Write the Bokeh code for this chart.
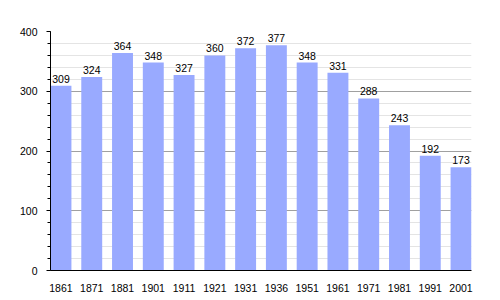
from bokeh.plotting import figure
from bokeh.models import ColumnDataSource, Range1d, SingleIntervalTicker, FixedTicker, LabelSet
from bokeh.core.properties import value
from bokeh.embed import file_html
from bokeh.resources import INLINE

years = ["1861", "1871", "1881", "1901", "1911", "1921", "1931", "1936", "1951", "1961", "1971", "1981", "1991", "2001"]
population = [309, 324, 364, 348, 327, 360, 372, 377, 348, 331, 288, 243, 192, 173]

xs = list(range(len(years)))
src = ColumnDataSource(dict(x=xs, y=population, lbl=[str(v) for v in population]))

bw = 0.68
p = figure(width=500, height=300, output_backend="svg", toolbar_location=None,
           x_range=Range1d(-bw / 2, len(years) - 1 + bw / 2), y_range=Range1d(0, 400),
           min_border_left=50, min_border_right=29, min_border_top=31, min_border_bottom=30)
p.outline_line_color = None
p.background_fill_color = "white"

p.vbar(x="x", top="y", width=bw, bottom=0, source=src, fill_color="#99aaff", line_color=None)

labels = LabelSet(x="x", y="y", text="lbl", source=src, text_align="center", text_baseline="bottom",
                  text_font=value("Liberation Sans"), text_font_size="10.5px", text_color="black",
                  y_offset=3)
p.add_layout(labels)

# y axis
p.yaxis.ticker = SingleIntervalTicker(interval=100, num_minor_ticks=5)
p.yaxis.axis_line_color = "black"
p.yaxis.major_tick_out = 4
p.yaxis.major_tick_in = 0
p.yaxis.minor_tick_out = 3
p.yaxis.minor_tick_in = 0
p.yaxis.major_tick_line_color = "black"
p.yaxis.minor_tick_line_color = "black"
p.yaxis.major_label_standoff = 9
p.yaxis.major_label_text_font = "Liberation Sans"
p.yaxis.major_label_text_font_size = "10.5px"
p.yaxis.major_label_text_color = "black"

# x axis
p.xaxis.ticker = FixedTicker(ticks=xs)
p.xaxis.major_label_overrides = {i: y for i, y in zip(xs, years)}
p.xaxis.major_tick_line_color = None
p.xaxis.minor_tick_line_color = None
p.xaxis.axis_line_color = "black"
p.xaxis.major_label_standoff = 7
p.xaxis.major_label_text_font = "Liberation Sans"
p.xaxis.major_label_text_font_size = "10.5px"
p.xaxis.major_label_text_color = "black"

# grids
p.xgrid.grid_line_color = None
p.ygrid.grid_line_color = "#a0a0a0"
p.ygrid.minor_grid_line_color = "#e4e4e4"
p.ygrid.level = "underlay"

open("out.html", "w").write(file_html(p, INLINE))
